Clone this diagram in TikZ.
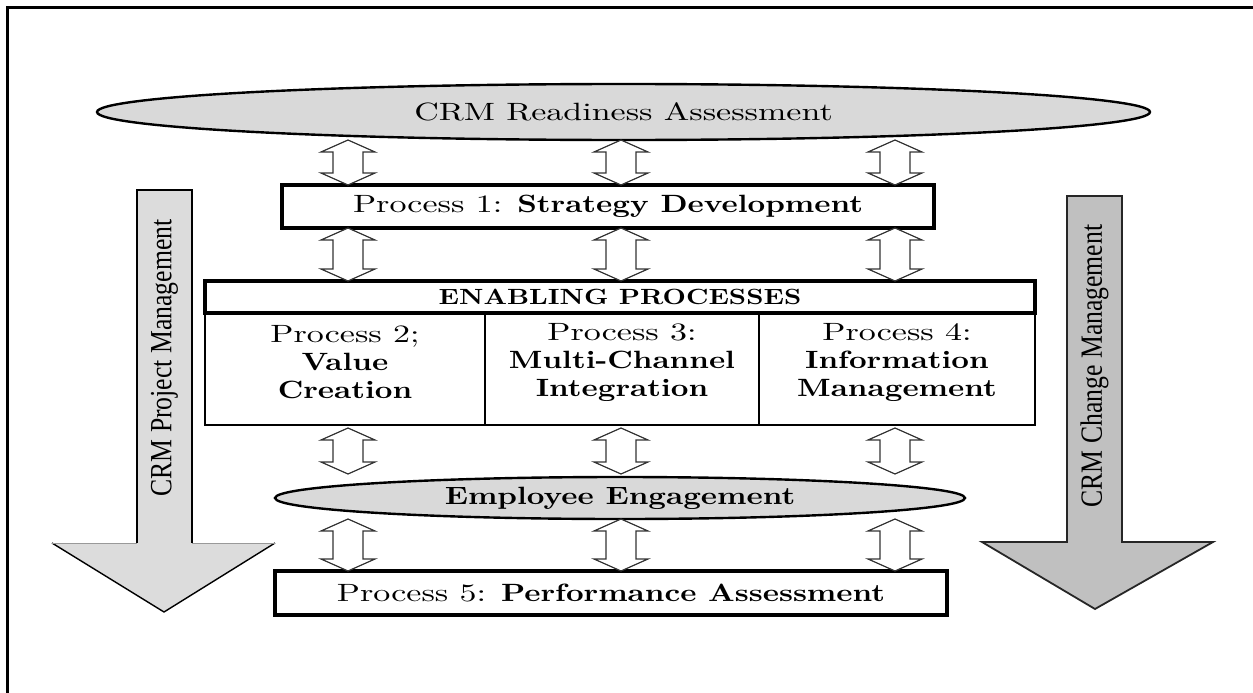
\documentclass[tikz,border=0pt]{standalone}
\usepackage{fontspec}
\usepackage{graphicx}
% wide serif faces for the box texts, a Times-like face for the side arrows
\newfontfamily\regwide{lmroman10-regular.otf}[FakeStretch=1.36]
\newfontfamily\boldwide{lmroman10-bold.otf}[FakeStretch=1.23]
\newfontfamily\timesface{Liberation Serif}
\usetikzlibrary{calc,shapes.geometric}
\definecolor{bubblegray}{HTML}{D9D9D9}
\definecolor{lightarrow}{HTML}{DCDCDC}
\definecolor{darkarrow}{HTML}{C0C0C0}

% hollow two-headed block arrow from point #1 (top tip) to point #2 (bottom tip)
\newcommand\twoway[2]{%
  \draw[linkarrow] let \p1=#1, \p2=#2 in
    (\x1,\y1) -- (\x1+27pt,\y1-12pt) -- (\x1+15pt,\y1-12pt) -- (\x1+15pt,\y2+12pt)
    -- (\x1+27pt,\y2+12pt) -- (\x1,\y2) -- (\x1-27pt,\y2+12pt) -- (\x1-15pt,\y2+12pt)
    -- (\x1-15pt,\y1-12pt) -- (\x1-27pt,\y1-12pt) -- cycle;}

\begin{document}
\begin{tikzpicture}[x=1pt,y=-1pt,
  bubble/.style={ellipse, draw, line width=2.4pt, fill=bubblegray, inner sep=0pt, outer sep=0pt},
  stagebox/.style={rectangle, draw, line width=3.6pt, fill=white, inner sep=0pt, outer sep=0pt},
  cellbox/.style={rectangle, draw, line width=1.4pt, inner sep=0pt, outer sep=0pt},
  txt/.style={font=\fontsize{25}{28}\selectfont, align=center, inner sep=0pt},
  linkarrow/.style={draw=black!80, line width=1.2pt, fill=white, line join=miter},
  sidelabel/.style={rotate=90, inner sep=0pt, font=\fontsize{25.7}{30}\selectfont\timesface}]

\useasboundingbox (0,0) rectangle (1253,693);

% page frame (top and left edges)
\draw[line width=3pt] (7.5,693) -- (7.5,7.5) -- (1253,7.5);

% left side arrow: project management
\fill[lightarrow] (137,190) -- (192,190) -- (192,543) -- (275,543) -- (164,612)
  -- (52,543) -- (137,543) -- cycle;
\draw[line width=2.6pt] (137,543) -- (137,190) -- (192,190) -- (192,543);
\draw[line width=1.4pt, line join=round] (52,543) -- (164,612) -- (275,543);
\draw[line width=0.8pt, black!40] (52,543) -- (137,543) (192,543) -- (275,543);
\node[sidelabel] (pmlabel) at (164.5,358) {\scalebox{1}[1.2]{CRM Project Management}};

% right side arrow: change management
\filldraw[fill=darkarrow, draw=black!85, line width=1.8pt] (1067,196) -- (1122,196)
  -- (1122,542) -- (1213,542) -- (1095,609) -- (982,542) -- (1067,542) -- cycle;
\node[sidelabel] (cmlabel) at (1094.5,366) {\scalebox{1}[1.2]{CRM Change Management}};

% stages
\node[bubble, minimum width=1053pt, minimum height=56pt, txt] (ready) at (623.5,112)
  {\regwide CRM Readiness Assessment};
\node[stagebox, minimum width=652pt, minimum height=43pt, txt] (strategy) at (608,206.5)
  {\regwide Process 1: \boldwide Strategy Development};

\node[cellbox, minimum width=280pt, minimum height=112pt] (valuecell) at (345,369) {};
\node[cellbox, minimum width=274pt, minimum height=112pt] (channelcell) at (622,369) {};
\node[cellbox, minimum width=276pt, minimum height=112pt] (infocell) at (897,369) {};
\node[stagebox, minimum width=830pt, minimum height=32pt,
  font=\fontsize{22}{24}\selectfont] (enabling) at (620,297) {\boldwide ENABLING PROCESSES};

\node[txt] (valuetext) at (345,362)
  {\regwide Process 2;\\ \boldwide Value\\ \boldwide Creation};
\node[txt] (channeltext) at (622,362)
  {\regwide Process 3:\\ \boldwide Multi-Channel\\ \boldwide Integration};
\node[txt] (infotext) at (897,362)
  {\regwide Process 4:\\ \boldwide Information\\ \boldwide Management};

\node[bubble, minimum width=690pt, minimum height=42pt, txt] (engage) at (620,498)
  {\boldwide Employee Engagement};
\node[stagebox, minimum width=672pt, minimum height=44pt, txt] (perform) at (611,593)
  {\regwide Process 5: \boldwide Performance Assessment};

% columns of the two-way links
\coordinate (colA) at (348,0);
\coordinate (colB) at (621,0);
\coordinate (colC) at (895,0);

\foreach \c in {colA,colB,colC} {
  \twoway{(\c |- ready.south)}{(\c |- strategy.north)}
  \twoway{(\c |- strategy.south)}{(\c |- enabling.north)}
  \twoway{($(\c |- valuecell.south)+(0,3)$)}{($(\c |- engage.north)+(0,-3)$)}
  \twoway{(\c |- engage.south)}{(\c |- perform.north)}
}
\end{tikzpicture}
\end{document}
